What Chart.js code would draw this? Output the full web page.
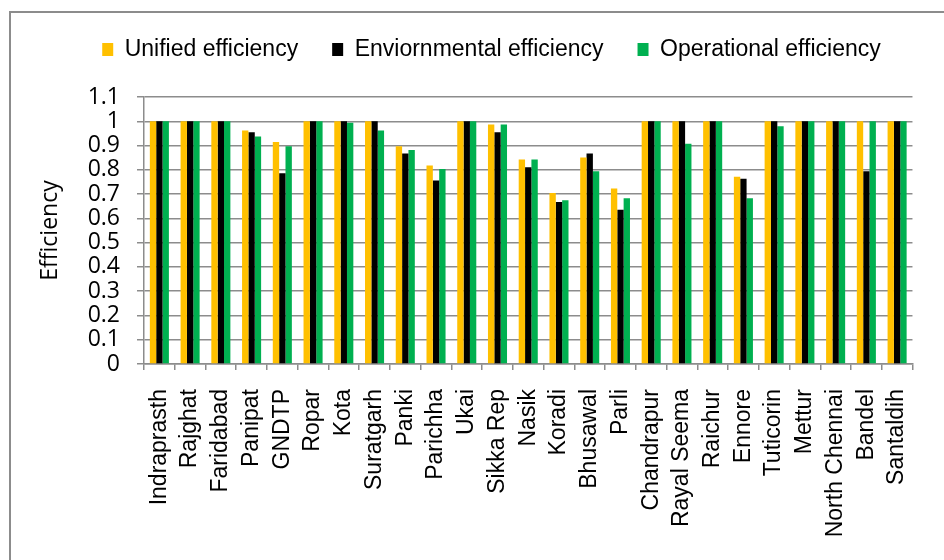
<!DOCTYPE html>
<html>
<head>
<meta charset="utf-8">
<title>Efficiency by plant</title>
<script src="https://cdn.jsdelivr.net/npm/chart.js@4.4.1/dist/chart.umd.min.js"></script>
<style>
    html, body { margin: 0; padding: 0; background: #fff; }
    body { width: 944px; height: 560px; position: relative; overflow: hidden; }
    #frame {
        position: absolute; left: 9px; top: 11px;
        width: 1000px; height: 600px;
        border: 2px solid #8c8c8c;
    }
    #chartBox { position: absolute; left: 0; top: 0; width: 944px; height: 560px; }
</style>
</head>
<body>
<div id="frame"></div>
<div id="chartBox"><canvas id="effChart" width="944" height="560"></canvas></div>
<script>
const plants = ['Indraprasth', 'Rajghat', 'Faridabad', 'Panipat', 'GNDTP', 'Ropar', 'Kota', 'Suratgarh',
    'Panki', 'Parichha', 'Ukai', 'Sikka Rep', 'Nasik', 'Koradi', 'Bhusawal', 'Parli', 'Chandrapur',
    'Rayal Seema', 'Raichur', 'Ennore', 'Tuticorin', 'Mettur', 'North Chennai', 'Bandel', 'Santaldih'];

const unifiedEff = [1, 1, 1, 0.962, 0.915, 1, 1, 1, 0.897, 0.818, 1, 0.987, 0.842, 0.705, 0.851, 0.723, 1,
    1, 1, 0.771, 1, 1, 1, 1, 1];
const environmentalEff = [1, 1, 1, 0.955, 0.786, 1, 1, 1, 0.867, 0.756, 1, 0.955, 0.811, 0.667, 0.867, 0.635, 1,
    1, 1, 0.763, 1, 1, 1, 0.794, 1];
const operationalEff = [1, 1, 1, 0.937, 0.897, 1, 0.994, 0.962, 0.882, 0.803, 1, 0.987, 0.842, 0.675, 0.794, 0.683, 1,
    0.907, 1, 0.683, 0.979, 1, 1, 1, 1];

const yTicks = ['0', '0.1', '0.2', '0.3', '0.4', '0.5', '0.6', '0.7', '0.8', '0.9', '1', '1.1'];

const gridGrey = '#8c8c8c';
const arialFont = "'Liberation Sans', Arial, sans-serif";
const calibriLike = "'Open Sans', 'Noto Sans', sans-serif";

// keep the legend at a fixed height and nudge it to where the reference has it
const legendTweak = {
    id: 'legendTweak',
    beforeInit(chart) {
        const origFit = chart.legend.fit;
        chart.legend.fit = function () {
            origFit.call(this);
            this.height = 93;
        };
    },
    afterLayout(chart) {
        chart.legend.left += 17;
        chart.legend.right += 17;
    }
};

const ctx = document.getElementById('effChart').getContext('2d');

new Chart(ctx, {
    type: 'bar',
    data: {
        labels: plants,
        datasets: [{
            label: 'Unified efficiency',
            data: unifiedEff,
            backgroundColor: '#FFC000'
        }, {
            label: 'Enviornmental efficiency',
            data: environmentalEff,
            backgroundColor: '#000000'
        }, {
            label: 'Operational efficiency',
            data: operationalEff,
            backgroundColor: '#00B050'
        }]
    },
    options: {
        responsive: false,
        animation: false,
        events: [],
        datasets: {
            bar: {
                barPercentage: 1,
                categoryPercentage: 0.62
            }
        },
        layout: {
            padding: { left: 20, right: 15, top: 4, bottom: 0 }
        },
        plugins: {
            legend: {
                position: 'top',
                labels: {
                    color: '#000',
                    font: { family: arialFont, size: 23 },
                    boxWidth: 11,
                    boxHeight: 13,
                    padding: 34
                }
            },
            tooltip: { enabled: false }
        },
        scales: {
            x: {
                grid: {
                    offset: true,
                    drawOnChartArea: false,
                    color: gridGrey,
                    lineWidth: 1.5,
                    tickLength: 6
                },
                border: { color: gridGrey, width: 1.5 },
                ticks: {
                    color: '#000',
                    font: { family: arialFont, size: 23 },
                    minRotation: 90,
                    maxRotation: 90,
                    autoSkip: false,
                    padding: 19
                },
                afterFit(scale) {
                    scale.height = 196;
                }
            },
            y: {
                min: 0,
                max: 1.1,
                grid: {
                    color: gridGrey,
                    lineWidth: 1.5,
                    tickLength: 7
                },
                border: { color: gridGrey, width: 1.5 },
                ticks: {
                    stepSize: 0.1,
                    autoSkip: false,
                    color: '#000',
                    font: { family: calibriLike, size: 23 },
                    padding: 17,
                    callback: function (value, index) {
                        return yTicks[index];
                    }
                },
                title: {
                    display: true,
                    text: 'Efficiency',
                    color: '#000',
                    font: { family: calibriLike, size: 23 },
                    padding: { top: 17, bottom: 0 }
                },
                afterFit(scale) {
                    scale.width = 124;
                }
            }
        }
    },
    plugins: [legendTweak]
});
</script>
</body>
</html>
